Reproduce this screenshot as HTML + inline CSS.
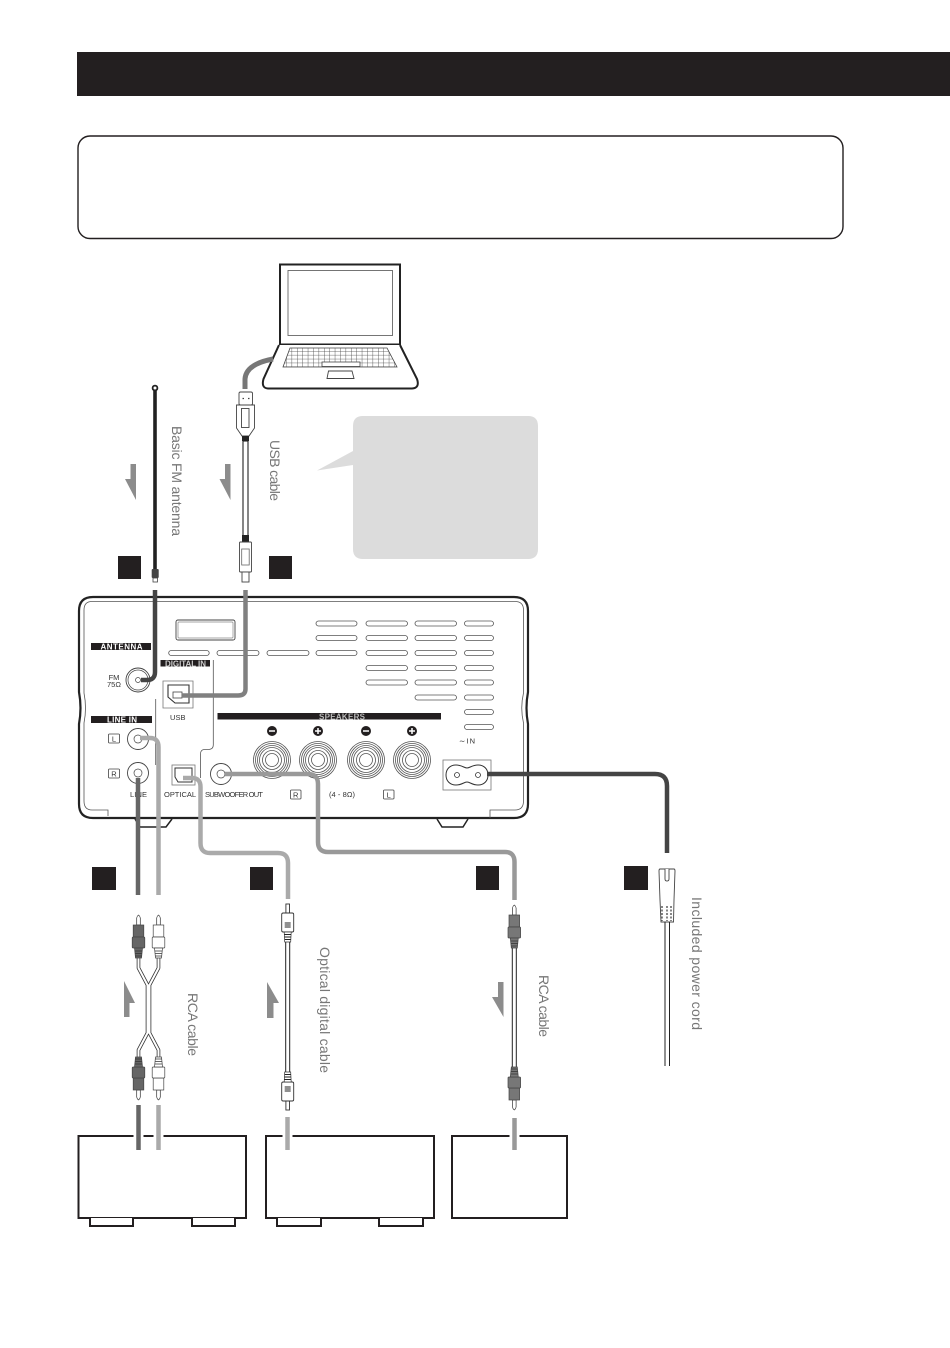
<!DOCTYPE html>
<html>
<head>
<meta charset="utf-8">
<style>
html,body{margin:0;padding:0;background:#fff;width:950px;height:1348px;overflow:hidden}
svg{display:block}
.lb{font-family:"Liberation Sans",sans-serif;font-size:7.5px;fill:#333}
.wt{font-family:"Liberation Sans",sans-serif;font-size:8px;fill:#fff;font-weight:bold}
.rt{font-family:"Liberation Sans",sans-serif;font-size:14px;fill:#777}
.sl{fill:#fff;stroke:#555;stroke-width:.8}
</style>
</head>
<body>
<svg width="950" height="1348" viewBox="0 0 950 1348" xmlns="http://www.w3.org/2000/svg">
<defs>
<pattern id="kb" width="5.4" height="3.9" patternUnits="userSpaceOnUse">
<rect width="5.4" height="3.9" fill="#fff"/>
<path d="M0 0H5.4M0 0V3.9" stroke="#444" stroke-width=".8" fill="none"/>
</pattern>
<g id="rca">
<path d="M-1.8 10V3Q-1.500 1 0 0Q1.500 1 1.800 3V10Z" fill="#fff" stroke="#333" stroke-width=".7"/>
<rect x="-5.300" y="10" width="10.600" height="12" fill="currentColor" stroke="#444" stroke-width=".7"/>
<rect x="-6.300" y="22" width="12.600" height="11" rx="1" fill="currentColor" stroke="#444" stroke-width=".7"/>
<path d="M-4 33H4L3 43H-3Z" fill="currentColor" stroke="#444" stroke-width=".7"/>
<path d="M-3.500 36H3.500M-3.300 38.500H3.300M-3.100 41H3.100" stroke="#333" stroke-width=".7"/>
</g>
<g id="opt">
<rect x="-1.800" y="0" width="3.600" height="9" fill="#fff" stroke="#333" stroke-width=".9"/>
<rect x="-6" y="9" width="12" height="19" rx="1.500" fill="#fff" stroke="#333" stroke-width=".9"/>
<path d="M-3 19H3M-3 21H3M-3 23H3" stroke="#222"/>
<path d="M-3.500 28H3.500L3 38H-3Z" fill="#fff" stroke="#333" stroke-width=".7"/>
<path d="M-3.300 30.500H3.300M-3.200 33H3.200M-3 35.500H3" stroke="#222" stroke-width=".9"/>
</g>
<g id="term">
<circle r="18.500" fill="#fff" stroke="#555" stroke-width=".8"/>
<circle r="16.500" fill="none" stroke="#555" stroke-width=".8"/>
<circle r="14.500" fill="none" stroke="#555" stroke-width=".8"/>
<circle r="12.500" fill="none" stroke="#555" stroke-width=".8"/>
<circle r="9.500" fill="none" stroke="#555" stroke-width=".8"/>
<circle r="6.500" fill="none" stroke="#555" stroke-width=".8"/>
</g>
</defs>

<rect x="77" y="52" width="873" height="44" fill="#231f20"/>
<rect x="78" y="136" width="765" height="102.500" rx="12" fill="#fff" stroke="#231f20" stroke-width="1.400"/>

<!-- laptop -->
<rect x="280" y="264.500" width="120" height="80" fill="#fff" stroke="#222" stroke-width="2"/>
<rect x="288" y="270.500" width="104.500" height="65" fill="#fff" stroke="#666" stroke-width=".9"/>
<path d="M279 345L263.500 379Q261 388 268 388.500H412Q420 388 417 379L400 345" fill="#fff" stroke="#222" stroke-width="2"/>
<path d="M290 348H387L397 367H283Z" fill="url(#kb)" stroke="#444" stroke-width=".8"/>
<rect x="322" y="362" width="38" height="4.500" fill="#fff" stroke="#444" stroke-width=".8"/>
<path d="M328.500 371H352L354 378.500H327Z" fill="#fff" stroke="#444" stroke-width=".9"/>
<path d="M245 389V379Q246 364 273 359" fill="none" stroke="#777" stroke-width="5"/>

<!-- usb cable -->
<rect x="239" y="392" width="13.500" height="13" rx="1.500" fill="#fff" stroke="#444" stroke-width=".9"/>
<path d="M242.500 398.500h1.500M248 398.500h1.500" stroke="#444" stroke-width="1.200"/>
<path d="M236.500 405H254.500V428L249 436H242L236.500 428Z" fill="#fff" stroke="#444" stroke-width=".9"/>
<rect x="241.500" y="408.500" width="7.500" height="19" fill="#fff" stroke="#444" stroke-width=".9"/>
<rect x="242" y="436" width="7" height="5" fill="#222"/>
<rect x="243" y="441" width="5" height="95" fill="#fff" stroke="#222" stroke-width="1.100"/>
<rect x="242" y="535" width="7" height="6.500" fill="#222"/>
<rect x="239.500" y="542" width="12" height="30" rx="1" fill="#fff" stroke="#444" stroke-width=".9"/>
<rect x="241.700" y="549" width="7.500" height="16" fill="#fff" stroke="#666" stroke-width=".8"/>
<rect x="242" y="572" width="7" height="10" fill="#fff" stroke="#444" stroke-width=".9"/>

<!-- antenna -->
<line x1="155" y1="390" x2="155" y2="571" stroke="#222" stroke-width="3.600"/>
<circle cx="155" cy="388" r="2.400" fill="#fff" stroke="#222" stroke-width="1.800"/>
<rect x="151.700" y="569" width="7" height="9" rx="1" fill="#444"/>
<rect x="153" y="578" width="4.500" height="4" fill="#fff" stroke="#444" stroke-width=".8"/>

<!-- arrows -->
<g fill="#8c8c8c">
<path d="M130.500 464H136V500L125 479H130.500Z"/>
<path d="M225 464H230.500V500L219.500 479H225Z"/>
<path d="M124 981L135 1003H129.500V1017H124Z"/>
<path d="M267 982L279 1003H273.500V1018H267Z"/>
<path d="M498 982H503.500V1017L492 997H498Z"/>
</g>

<!-- black squares -->
<g fill="#231f20">
<rect x="118" y="556" width="23" height="23"/>
<rect x="269" y="556" width="23" height="23"/>
<rect x="92" y="867" width="24" height="23"/>
<rect x="250" y="867" width="23" height="23"/>
<rect x="476" y="866" width="23" height="24"/>
<rect x="624" y="866" width="24" height="24"/>
</g>

<!-- callout -->
<path d="M363 416H528Q538 416 538 426V549Q538 559 528 559H363Q353 559 353 549V465L317 470.500L353 451V426Q353 416 363 416Z" fill="#dcdcdc"/>

<!-- device -->
<path d="M135 819L140 827H166L172 819" fill="#fff" stroke="#222" stroke-width="1.500"/>
<path d="M437 819L442 827H463L468 819" fill="#fff" stroke="#222" stroke-width="1.500"/>
<path d="M93 597H514Q528 597 528 611V692Q525 708 528 724V804Q528 818 514 818H93Q79 818 79 804V724Q82 708 79 692V611Q79 597 93 597Z" fill="#fff" stroke="#222" stroke-width="2.200"/>
<path d="M92 601.500H515Q523.500 601.500 523.500 610V693Q520 708 523.500 723V801Q523.500 810 515 810H490V818M92 601.500Q84 601.500 84 610V693Q87 708 84 723V801Q84 810 92 810H108V816" fill="none" stroke="#555" stroke-width=".8"/>

<!-- display -->
<rect x="176" y="620" width="59" height="20" rx="2" fill="#fff" stroke="#444" stroke-width=".9"/>
<rect x="178" y="622" width="55" height="16" rx="1" fill="none" stroke="#888" stroke-width=".7"/>

<!-- slots -->
<rect class="sl" x="168.700" y="650.500" width="40.500" height="5" rx="2.500"/>
<rect class="sl" x="217" y="650.500" width="42" height="5" rx="2.500"/>
<rect class="sl" x="267" y="650.500" width="42" height="5" rx="2.500"/>
<rect class="sl" x="316" y="621" width="41" height="5" rx="2.500"/>
<rect class="sl" x="316" y="635.500" width="41" height="5" rx="2.500"/>
<rect class="sl" x="316" y="650.500" width="41" height="5" rx="2.500"/>
<rect class="sl" x="366" y="621" width="41.500" height="5" rx="2.500"/>
<rect class="sl" x="366" y="635.500" width="41.500" height="5" rx="2.500"/>
<rect class="sl" x="366" y="650.500" width="41.500" height="5" rx="2.500"/>
<rect class="sl" x="366" y="665.500" width="41.500" height="5" rx="2.500"/>
<rect class="sl" x="366" y="680" width="41.500" height="5" rx="2.500"/>
<rect class="sl" x="415" y="621" width="41.500" height="5" rx="2.500"/>
<rect class="sl" x="415" y="635.500" width="41.500" height="5" rx="2.500"/>
<rect class="sl" x="415" y="650.500" width="41.500" height="5" rx="2.500"/>
<rect class="sl" x="415" y="665.500" width="41.500" height="5" rx="2.500"/>
<rect class="sl" x="415" y="680" width="41.500" height="5" rx="2.500"/>
<rect class="sl" x="415" y="695" width="41.500" height="5" rx="2.500"/>
<rect class="sl" x="464.500" y="621" width="29" height="5" rx="2.500"/>
<rect class="sl" x="464.500" y="635.500" width="29" height="5" rx="2.500"/>
<rect class="sl" x="464.500" y="650.500" width="29" height="5" rx="2.500"/>
<rect class="sl" x="464.500" y="665.500" width="29" height="5" rx="2.500"/>
<rect class="sl" x="464.500" y="680" width="29" height="5" rx="2.500"/>
<rect class="sl" x="464.500" y="695" width="29" height="5" rx="2.500"/>
<rect class="sl" x="464.500" y="709.500" width="29" height="5" rx="2.500"/>
<rect class="sl" x="464.500" y="724.500" width="29" height="5" rx="2.500"/>

<!-- panel lines -->
<path d="M213.300 660V745Q213.300 749 209 749.500H204Q200.500 750 200.500 754V778" fill="none" stroke="#555" stroke-width=".8"/>
<path d="M155.700 699V765" fill="none" stroke="#555" stroke-width=".8"/>

<!-- bands -->
<rect x="91" y="643" width="60" height="7" fill="#231f20"/>
<text class="wt" x="100.500" y="649.500" textLength="42">ANTENNA</text>
<rect x="91" y="716" width="61" height="7" fill="#231f20"/>
<text class="wt" x="107" y="722.500" textLength="30">LINE IN</text>
<rect x="160.500" y="660" width="49.500" height="6.500" fill="#231f20"/>
<text class="wt" x="165" y="666.300" textLength="41" style="fill:#ccc">DIGITAL IN</text>
<rect x="217.500" y="713" width="223.500" height="6.500" fill="#231f20"/>
<text class="wt" x="319" y="719.300" textLength="46" style="fill:#bbb">SPEAKERS</text>

<!-- labels -->
<text class="lb" x="114" y="680" text-anchor="middle">FM</text>
<text class="lb" x="114" y="687" text-anchor="middle">75Ω</text>
<text class="lb" x="170" y="720" textLength="15.500">USB</text>
<rect x="108.500" y="734" width="11" height="9" rx="1" fill="#fff" stroke="#444" stroke-width=".8"/>
<text class="lb" x="114" y="741.500" text-anchor="middle">L</text>
<rect x="108.500" y="769" width="11" height="9" rx="1" fill="#fff" stroke="#444" stroke-width=".8"/>
<text class="lb" x="114" y="776.500" text-anchor="middle">R</text>
<text class="lb" x="130" y="797" textLength="17">LINE</text>
<text class="lb" x="164" y="797" textLength="32">OPTICAL</text>
<text class="lb" x="205" y="797" textLength="58">SUBWOOFER OUT</text>
<rect x="290.500" y="790" width="10.500" height="9" rx="1" fill="#fff" stroke="#444" stroke-width=".8"/>
<text class="lb" x="295.700" y="797.300" text-anchor="middle">R</text>
<text class="lb" x="329" y="797" textLength="26">(4 - 8Ω)</text>
<rect x="383.500" y="790" width="10.500" height="9" rx="1" fill="#fff" stroke="#444" stroke-width=".8"/>
<text class="lb" x="388.700" y="797.300" text-anchor="middle">L</text>
<text class="lb" x="459" y="743.500" textLength="16">∼IN</text>

<!-- connectors -->
<circle cx="138" cy="680" r="12" fill="#fff" stroke="#444" stroke-width=".9"/>
<circle cx="138" cy="680" r="10" fill="#fff" stroke="#444" stroke-width=".7"/>
<circle cx="138" cy="680" r="2.500" fill="#fff" stroke="#444" stroke-width=".7"/>
<path d="M163 681H193V708H163Z" fill="#fff" stroke="#777" stroke-width=".8"/>
<path d="M168 685H189V703H175L168 697Z" fill="#fff" stroke="#333" stroke-width="1.100"/>
<rect x="173" y="692" width="9" height="6" fill="#fff" stroke="#444" stroke-width=".8"/>
<circle cx="138" cy="739" r="10.500" fill="#fff" stroke="#444" stroke-width=".9"/>
<circle cx="138" cy="739" r="4" fill="#fff" stroke="#444" stroke-width=".7"/>
<circle cx="138" cy="773" r="10.500" fill="#fff" stroke="#444" stroke-width=".9"/>
<circle cx="138" cy="773" r="4" fill="#fff" stroke="#444" stroke-width=".7"/>
<rect x="172" y="765" width="23" height="20" fill="#fff" stroke="#777" stroke-width=".8"/>
<path d="M175 768H192V782H178L175 777Z" fill="#fff" stroke="#333" stroke-width="1"/>
<circle cx="221" cy="774" r="10.500" fill="#fff" stroke="#444" stroke-width=".9"/>
<circle cx="221" cy="774" r="4" fill="#fff" stroke="#444" stroke-width=".7"/>

<!-- speakers -->
<use href="#term" x="272" y="760"/>
<use href="#term" x="318" y="760"/>
<use href="#term" x="366" y="760"/>
<use href="#term" x="412" y="760"/>
<g fill="#231f20">
<circle cx="272" cy="731" r="5"/><circle cx="318" cy="731" r="5"/><circle cx="366" cy="731" r="5"/><circle cx="412" cy="731" r="5"/>
</g>
<path d="M269 731H275M315 731H321M318 728V734M363 731H369M409 731H415M412 728V734" stroke="#fff" stroke-width="1.500"/>

<!-- inlet -->
<rect x="443" y="760" width="48" height="30" fill="#fff" stroke="#777" stroke-width=".8"/>
<path d="M456 765C462 765 464 768 467 768C470 768 472 765 478 765C484 765 488 769 488 775C488 781 484 785 478 785C472 785 470 782 467 782C464 782 462 785 456 785C450 785 446 781 446 775C446 769 450 765 456 765Z" fill="#fff" stroke="#333" stroke-width="1"/>
<circle cx="457" cy="775" r="2.500" fill="#fff" stroke="#333" stroke-width=".8"/>
<circle cx="478" cy="775" r="2.500" fill="#fff" stroke="#333" stroke-width=".8"/>

<!-- coloured cables -->
<g fill="none" stroke-width="4.500">
<path d="M155 590V672Q155 680 147 680H141" stroke="#444"/>
<path d="M245.500 590V689Q245.500 695.500 238 695.500H182" stroke="#808080"/>
<path d="M140 738H150Q158.500 738 158.500 747V895" stroke="#aaa"/>
<path d="M138 778V895" stroke="#666"/>
<path d="M183 778H192Q200.500 778 200.500 787V843Q200.500 853 210 853H278Q288 853 288 863V899" stroke="#aaa"/>
<path d="M225 774H308Q318 774 318 784V842Q318 852 328 852H505Q514.500 852 514.500 862V900" stroke="#999"/>
<path d="M487 774H655Q667 774 667 786V853" stroke="#444"/>
</g>

<!-- rca y cable -->
<g fill="none" stroke-linejoin="round">
<path d="M138.500 957V968L147.500 985V1033L138.500 1050V1058" stroke="#333" stroke-width="3.600"/>
<path d="M158.500 957V968L149.500 985V1033L158.500 1050V1058" stroke="#333" stroke-width="3.600"/>
<path d="M138.500 957V968L147.500 985V1033L138.500 1050V1058" stroke="#fff" stroke-width="2"/>
<path d="M158.500 957V968L149.500 985V1033L158.500 1050V1058" stroke="#fff" stroke-width="2"/>
</g>
<use href="#rca" transform="translate(138.500 915)" style="color:#666"/>
<use href="#rca" transform="translate(158.500 915)" style="color:#fff"/>
<use href="#rca" transform="translate(138.500 1100) scale(1 -1)" style="color:#666"/>
<use href="#rca" transform="translate(158.500 1100) scale(1 -1)" style="color:#fff"/>

<!-- optical cable -->
<rect x="285.700" y="941" width="4" height="133" fill="#fff" stroke="#222" stroke-width="1"/>
<use href="#opt" transform="translate(287.700 904)"/>
<use href="#opt" transform="translate(287.700 1110) scale(1 -1)"/>

<!-- rca 5 -->
<rect x="512.300" y="947" width="4" height="121" fill="#fff" stroke="#222" stroke-width="1"/>
<use href="#rca" transform="translate(514.300 905)" style="color:#777"/>
<use href="#rca" transform="translate(514.300 1110) scale(1 -1)" style="color:#777"/>

<!-- power plug -->
<path d="M660 869H674Q675 869 675 871L674 900L673.500 922H661L660 900L659 871Q659 869 660 869Z" fill="#fff" stroke="#444" stroke-width=".9"/>
<path d="M665 869V879Q665 881 667 881Q669 881 669 879V869" fill="#fff" stroke="#444" stroke-width=".9"/>
<path d="M662 906V921M667 906V921M671 906V921" stroke="#444" stroke-width="1.300" stroke-dasharray="2 1.500"/>
<path d="M665 922V1066M669.500 922V1066" stroke="#222" stroke-width="1"/>

<!-- lower boxes -->
<rect x="78.500" y="1136" width="167.500" height="82" fill="#fff" stroke="#231f20" stroke-width="2"/>
<path d="M90 1218V1226H133V1218M192 1218V1226H235V1218" fill="#fff" stroke="#231f20" stroke-width="2"/>
<rect x="266" y="1136" width="168" height="82" fill="#fff" stroke="#231f20" stroke-width="2"/>
<path d="M277 1218V1226H321V1218M379 1218V1226H423V1218" fill="#fff" stroke="#231f20" stroke-width="2"/>
<rect x="452" y="1136" width="115" height="82" fill="#fff" stroke="#231f20" stroke-width="2"/>

<!-- lower stubs -->
<g stroke="#fff" stroke-width="10">
<path d="M138.500 1130V1142M158.500 1130V1142M287.500 1130V1142M514.500 1130V1142"/>
</g>
<g stroke-width="4.500" fill="none">
<path d="M138.500 1105V1150" stroke="#666"/>
<path d="M158.500 1105V1150" stroke="#aaa"/>
<path d="M287.500 1117V1150" stroke="#aaa"/>
<path d="M514.500 1118V1150" stroke="#999"/>
</g>

<!-- rotated labels -->
<text class="rt" transform="translate(172 426) rotate(90)" textLength="110">Basic FM antenna</text>
<text class="rt" transform="translate(270 440) rotate(90)" textLength="61">USB cable</text>
<text class="rt" transform="translate(188 993) rotate(90)" textLength="63">RCA cable</text>
<text class="rt" transform="translate(320 947) rotate(90)" textLength="126">Optical digital cable</text>
<text class="rt" transform="translate(539 975) rotate(90)" textLength="62">RCA cable</text>
<text class="rt" transform="translate(692 897) rotate(90)" textLength="133">Included power cord</text>
</svg>
</body>
</html>
